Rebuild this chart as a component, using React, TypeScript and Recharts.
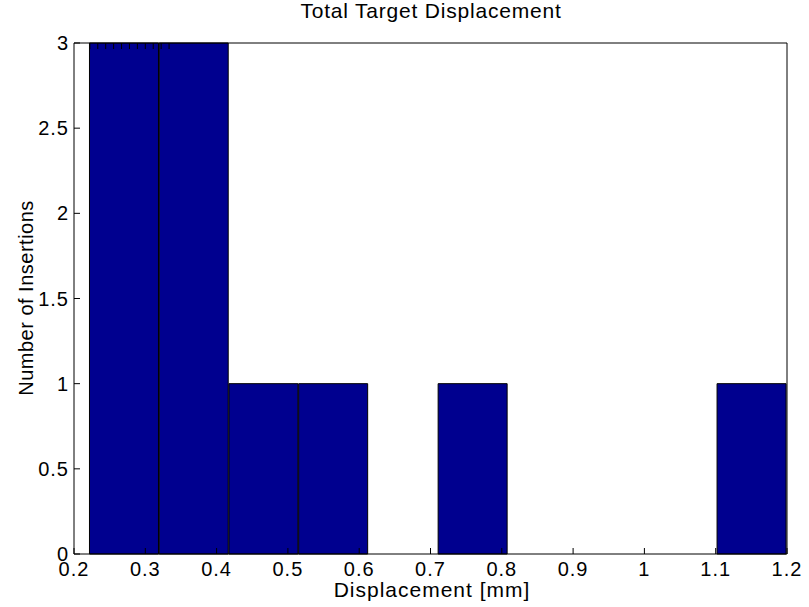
import React from 'react';
import { BarChart, Bar, XAxis, YAxis, Label } from 'recharts';

// histogram bins (centres) and counts
const binCenters = [0.2706, 0.3684, 0.4662, 0.564, 0.6618, 0.7596, 0.8574, 0.9552, 1.053, 1.1508];
const counts = [3, 3, 1, 1, 0, 1, 0, 0, 0, 1];

const xTicks = [0.2, 0.3, 0.4, 0.5, 0.6, 0.7, 0.8, 0.9, 1.0, 1.1, 1.2];
const xTickLabels = ['0.2', '0.3', '0.4', '0.5', '0.6', '0.7', '0.8', '0.9', '1', '1.1', '1.2'];
const yTicks = [0, 0.5, 1, 1.5, 2, 2.5, 3];
const yTickLabels = ['0', '0.5', '1', '1.5', '2', '2.5', '3'];

const title = 'Total Target Displacement';
const xTitle = 'Displacement [mm]';
const yTitle = 'Number of Insertions';

const data = binCenters.map((x, i) => ({ x, count: counts[i] }));

const FONT = '"Liberation Sans", Arial, sans-serif';
const tickStyle = { fontSize: 20, fill: '#000', fontFamily: FONT, letterSpacing: 1 };

export default function App() {
  return (
    <div style={{ position: 'absolute', left: 0, top: 0, width: 809, height: 607, background: '#fff' }}>
      <BarChart
        width={809}
        height={607}
        data={data}
        margin={{ top: 42, right: 21, bottom: 0, left: 0 }}
        barCategoryGap="0%"
        barGap={0}
      >
        <XAxis
          dataKey="x"
          type="number"
          domain={[0.2, 1.2]}
          ticks={xTicks}
          allowDataOverflow
          height={53}
          tickSize={-6}
          tickMargin={14}
          tick={tickStyle}
          tickFormatter={(v, i) => xTickLabels[i]}
          stroke="#000"
          interval={0}
        >
          <Label
            content={() => (
              <text x={432} y={597} textAnchor="middle" fontSize={21} fontFamily={FONT} letterSpacing={1} fill="#000">
                {xTitle}
              </text>
            )}
          />
        </XAxis>
        <XAxis
          xAxisId="top"
          orientation="top"
          type="number"
          domain={[0.2, 1.2]}
          ticks={xTicks}
          allowDataOverflow
          height={1}
          tickSize={-6}
          tickFormatter={() => ''}
          stroke="#000"
          interval={0}
        >
          <Label
            content={() => (
              <text x={431} y={18} textAnchor="middle" fontSize={21} fontFamily={FONT} letterSpacing={0.8} fill="#000">
                {title}
              </text>
            )}
          />
        </XAxis>
        <YAxis
          type="number"
          domain={[0, 3]}
          ticks={yTicks}
          width={74}
          tickSize={-6}
          tickMargin={11}
          tick={tickStyle}
          tickFormatter={(v, i) => yTickLabels[i]}
          stroke="#000"
          interval={0}
        >
          <Label
            content={() => (
              <text
                x={33}
                y={298}
                transform="rotate(-90 33 298)"
                textAnchor="middle"
                fontSize={20}
                fontFamily={FONT}
                letterSpacing={0.5}
                fill="#000"
              >
                {yTitle}
              </text>
            )}
          />
        </YAxis>
        <YAxis
          yAxisId="right"
          orientation="right"
          type="number"
          domain={[0, 3]}
          ticks={yTicks}
          width={1}
          tickSize={-6}
          tickFormatter={() => ''}
          stroke="#000"
          interval={0}
        />
        <Bar dataKey="count" fill="#00008F" stroke="#000" strokeWidth={1} barSize={69} isAnimationActive={false} />
      </BarChart>
    </div>
  );
}
